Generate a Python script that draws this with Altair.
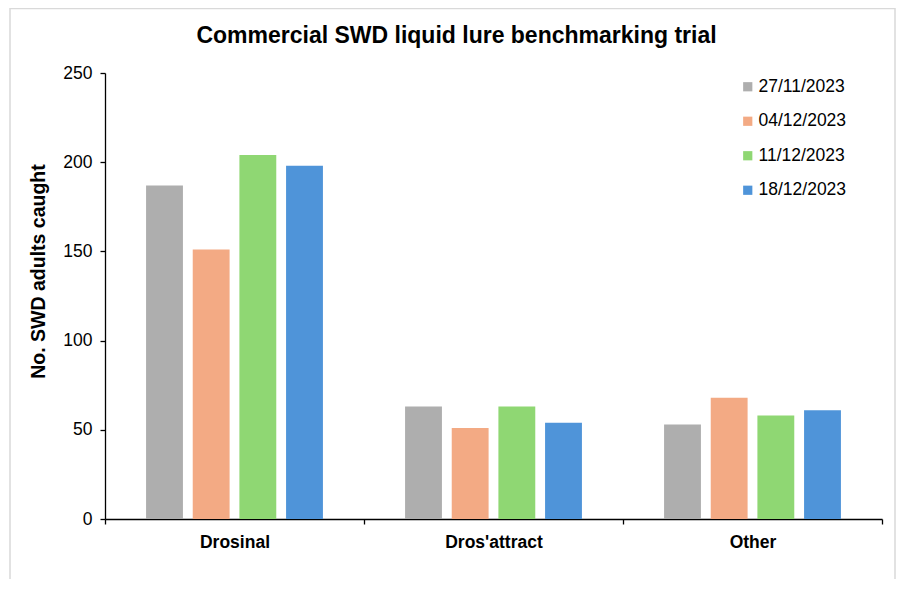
import altair as alt
import pandas as pd

lures = ["Drosinal", "Dros'attract", "Other"]
dates = ["27/11/2023", "04/12/2023", "11/12/2023", "18/12/2023"]
colors = ["#AEAEAE", "#F3AA84", "#8FD773", "#4F94D9"]
v_2711 = [187, 63, 53]
v_0412 = [151, 51, 68]
v_1112 = [204, 63, 58]
v_1812 = [198, 54, 61]
y_ticks = [0, 50, 100, 150, 200, 250]

rows = []
for d, vals in zip(dates, [v_2711, v_0412, v_1112, v_1812]):
    for l, v in zip(lures, vals):
        rows.append({"lure": l, "date": d, "count": v})
df = pd.DataFrame(rows)

FONT = "Liberation Sans"

bars = alt.Chart(df).mark_bar().encode(
    x=alt.X("lure:N", sort=lures, title=None,
            scale=alt.Scale(paddingInner=0, paddingOuter=0),
            axis=alt.Axis(labelAngle=0, tickBand="extent", labelFontWeight="bold",
                          labelPadding=9, tickSize=5)),
    xOffset=alt.XOffset("date:N", sort=dates,
                        scale=alt.Scale(paddingInner=0.21, paddingOuter=0.88)),
    y=alt.Y("count:Q", title="No. SWD adults caught",
            scale=alt.Scale(domain=[0, 250]),
            axis=alt.Axis(values=y_ticks, grid=False, tickSize=5, labelPadding=8,
                          titlePadding=14, titleFontWeight="bold", titleFontSize=19.5,
                          titleY=198)),
    color=alt.Color("date:N", sort=dates,
                    scale=alt.Scale(domain=dates, range=colors),
                    legend=alt.Legend(title=None, orient="none", legendX=634, legendY=5,
                                      symbolType="square", symbolSize=85,
                                      symbolStrokeWidth=0, rowPadding=15.5,
                                      labelFontSize=17.5, labelFont=FONT,
                                      labelColor="#000000", labelOffset=2)),
)

border = alt.Chart(pd.DataFrame({"a": [0]})).mark_rect(
    fill=None, stroke="#D9D9D9", strokeWidth=1.5
).encode(
    x=alt.value(-95), x2=alt.value(790), y=alt.value(-64.5), y2=alt.value(540)
)

chart = alt.layer(border, bars).properties(
    width=777, height=446,
    padding={"left": 97, "top": 65, "right": 15, "bottom": 60},
    autosize=alt.AutoSizeParams(type="none"),
    title=alt.TitleParams("Commercial SWD liquid lure benchmarking trial",
                          font=FONT, fontSize=23, fontWeight="bold", color="#000000",
                          anchor="middle", dx=-37, offset=-40),
).configure_view(stroke=None).configure_axis(
    labelFont=FONT, titleFont=FONT, labelFontSize=17.5, titleFontSize=19.5,
    labelColor="#000000", titleColor="#000000", domainColor="#000000",
    tickColor="#000000", domainWidth=1.3, tickWidth=1.3,
)

chart.save("out.html", embed_options={"renderer": "svg", "actions": False})
